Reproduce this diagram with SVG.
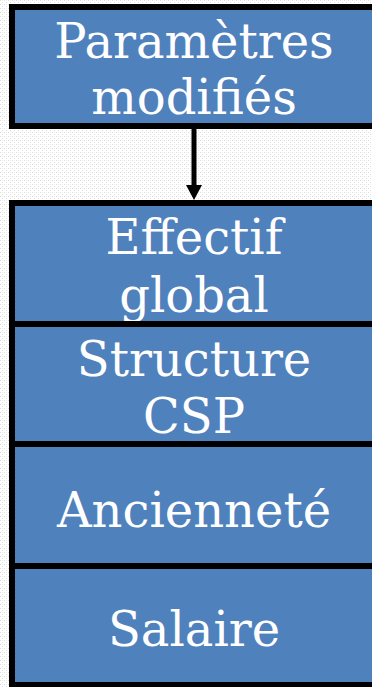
<svg xmlns="http://www.w3.org/2000/svg" width="372" height="687" viewBox="0 0 372 687">
<defs>
<pattern id="dither" width="4" height="4" patternUnits="userSpaceOnUse">
<rect width="4" height="4" fill="#ffffff"/>
<rect x="0" y="0" width="1" height="1" fill="#dddddd"/>
<rect x="2" y="2" width="1" height="1" fill="#dddddd"/>
<rect x="2" y="0" width="1" height="1" fill="#f0f0f0"/>
</pattern>
</defs>
<style>
.box{fill:#4F81BD;stroke:#000;stroke-width:6}
.lbl{font-family:"DejaVu Serif","Liberation Serif",serif;font-size:48px;fill:#ffffff;text-anchor:middle}
</style>
<rect width="372" height="687" fill="url(#dither)"/>
<g id="connectors">
<line x1="194" y1="129" x2="194" y2="186" stroke="#000" stroke-width="5"/>
<path d="M186,185 L202,185 L194,200 Z" fill="#000"/>
</g>
<g id="node-parametres">
<rect class="box" x="12" y="7" width="366" height="119"/>
<text class="lbl" x="194" y="58">Paramètres</text>
<text class="lbl" x="194" y="114">modifiés</text>
</g>
<g id="node-effectif">
<rect class="box" x="12" y="203" width="366" height="121"/>
<text class="lbl" x="194" y="254">Effectif</text>
<text class="lbl" x="194" y="312">global</text>
</g>
<g id="node-structure">
<rect class="box" x="12" y="324" width="366" height="120"/>
<text class="lbl" x="194" y="376">Structure</text>
<text class="lbl" x="194" y="433">CSP</text>
</g>
<g id="node-anciennete">
<rect class="box" x="12" y="444" width="366" height="122"/>
<text class="lbl" x="194" y="527">Ancienneté</text>
</g>
<g id="node-salaire">
<rect class="box" x="12" y="566" width="366" height="119"/>
<text class="lbl" x="194" y="646">Salaire</text>
</g>
</svg>
